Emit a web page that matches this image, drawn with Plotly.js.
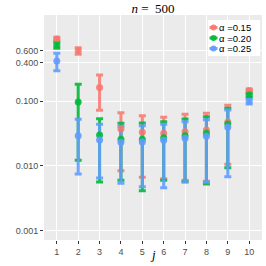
<!DOCTYPE html>
<html><head><meta charset="utf-8">
<script src="https://cdn.plot.ly/plotly-3.0.1.min.js"></script>
<style>html,body{margin:0;padding:0;background:#fff;}#chart{width:266px;height:266px;}</style>
</head><body><div id="chart"></div>
<script>
var js = [1,2,3,4,5,6,7,8,9,10];
var seriesNames = ['α =0.15','α =0.20','α =0.25'];
var colors = ['rgba(248,118,109,0.85)','rgba(0,186,56,0.9)','rgba(97,156,255,0.9)'];

var redMid = [0.918, 0.605, 0.164, 0.0373, 0.0332, 0.032, 0.0339, 0.036, 0.0479, 0.147];
var redUp  = [0.975, 0.673, 0.255, 0.0667, 0.0599, 0.0566, 0.063, 0.0653, 0.0867, 0.155];
var redLo  = [0.865, 0.532, 0.0726, 0.00845, 0.00668, 0.00637, 0.006, 0.0058, 0.0106, 0.139];

var greenMid = [0.735, 0.0975, 0.0301, 0.0259, 0.0259, 0.0274, 0.0294, 0.032, 0.0446, 0.125];
var greenUp  = [0.817, 0.183, 0.0538, 0.0457, 0.0462, 0.0484, 0.0532, 0.0578, 0.078, 0.133];
var greenLo  = [0.66, 0.01225, 0.00566, 0.006, 0.00415, 0.00601, 0.0057, 0.00527, 0.00942, 0.115];

var blueMid = [0.42, 0.0294, 0.0252, 0.0232, 0.0235, 0.0249, 0.0268, 0.0288, 0.0396, 0.1];
var blueUp  = [0.552, 0.0527, 0.044, 0.0411, 0.042, 0.044, 0.0484, 0.052, 0.0734, 0.11];
var blueLo  = [0.297, 0.0075, 0.00652, 0.0054, 0.00478, 0.00463, 0.00566, 0.00566, 0.00684, 0.091];

var yTicks = [0.001, 0.01, 0.1, 0.4, 0.6];
var yTickText = ['0.001','0.010','0.100','0.400','0.600'];

var mids = [redMid, greenMid, blueMid];
var ups = [redUp, greenUp, blueUp];
var los = [redLo, greenLo, blueLo];

var traces = [];
for (var s=0; s<3; s++) {
  traces.push({
    x: js, y: mids[s], type:'scatter', mode:'markers',
    marker:{size:1, color:'rgba(0,0,0,0)'},
    error_y:{type:'data', symmetric:false,
      array: ups[s].map(function(u,i){return u-mids[s][i];}),
      arrayminus: mids[s].map(function(m,i){return m-los[s][i];}),
      color: colors[s], thickness:3, width:3.5},
    showlegend:false, hoverinfo:'skip'
  });
}
for (var s=0; s<3; s++) {
  traces.push({
    x: js, y: mids[s], type:'scatter', mode:'markers',
    marker:{size:7, color:colors[s]},
    showlegend:false
  });
}

// custom compact legend (pixel layout converted to paper coords)
var L = 44, R = 262, T = 15, B = 240;
function px(x){ return (x - L) / (R - L); }
function py(y){ return (B - y) / (B - T); }
var shapes = [{type:'rect', xref:'paper', yref:'paper', x0:px(208), x1:px(260), y0:py(56), y1:py(20),
  fillcolor:'#ffffff', line:{width:0}, layer:'above'}];
var annotations = [];
var rowY = [27.5, 38, 48.5];
for (var s=0; s<3; s++) {
  shapes.push({type:'line', xref:'paper', yref:'paper', x0:px(209.5), x1:px(217.5), y0:py(rowY[s]), y1:py(rowY[s]),
    line:{color:colors[s], width:3}, layer:'above'});
  shapes.push({type:'circle', xref:'paper', yref:'paper', x0:px(210.5), x1:px(216.5), y0:py(rowY[s]+3), y1:py(rowY[s]-3),
    fillcolor:colors[s], line:{width:0}, layer:'above'});
  annotations.push({xref:'paper', yref:'paper', x:px(218), y:py(rowY[s]), xanchor:'left', yanchor:'middle',
    text:seriesNames[s], showarrow:false, borderpad:0,
    font:{family:'Liberation Sans, Arial, sans-serif', size:9.5, color:'#000'}});
}
annotations.push({xref:'paper', yref:'paper', x:0.5, y:py(254.5), xanchor:'center', yanchor:'middle',
  text:'<i>j</i>', showarrow:false, font:{family:'Liberation Serif, DejaVu Serif, serif', size:13, color:'#000'}});

var layout = {
  width:266, height:266,
  margin:{l:44, r:4, t:15, b:26},
  paper_bgcolor:'#ffffff', plot_bgcolor:'#EBEBEB',
  title:{text:'<i>n</i> =  500', x:0.5, xref:'paper', y:0.97, yref:'container', yanchor:'middle',
    font:{family:'Liberation Serif, DejaVu Serif, serif', size:13, color:'#000'}},
  xaxis:{type:'linear', range:[0.4,10.6], tickvals:js, ticktext:js.map(String),
    showgrid:true, gridcolor:'#ffffff', gridwidth:1, zeroline:false,
    ticks:'outside', ticklen:3, tickcolor:'#333333', tickwidth:1,
    tickfont:{family:'Liberation Sans, Arial, sans-serif', size:9, color:'#4D4D4D'},
    showline:false},
  yaxis:{type:'log', range:[-3.144, 0.334], tickvals:yTicks, ticktext:yTickText,
    showgrid:true, gridcolor:'#ffffff', gridwidth:1, zeroline:false,
    ticks:'outside', ticklen:3, tickcolor:'#333333', tickwidth:1,
    tickfont:{family:'Liberation Sans, Arial, sans-serif', size:9, color:'#4D4D4D'},
    showline:false},
  showlegend:false,
  shapes:shapes,
  annotations:annotations
};

Plotly.newPlot('chart', traces, layout, {staticPlot:true, displayModeBar:false});
</script></body></html>
